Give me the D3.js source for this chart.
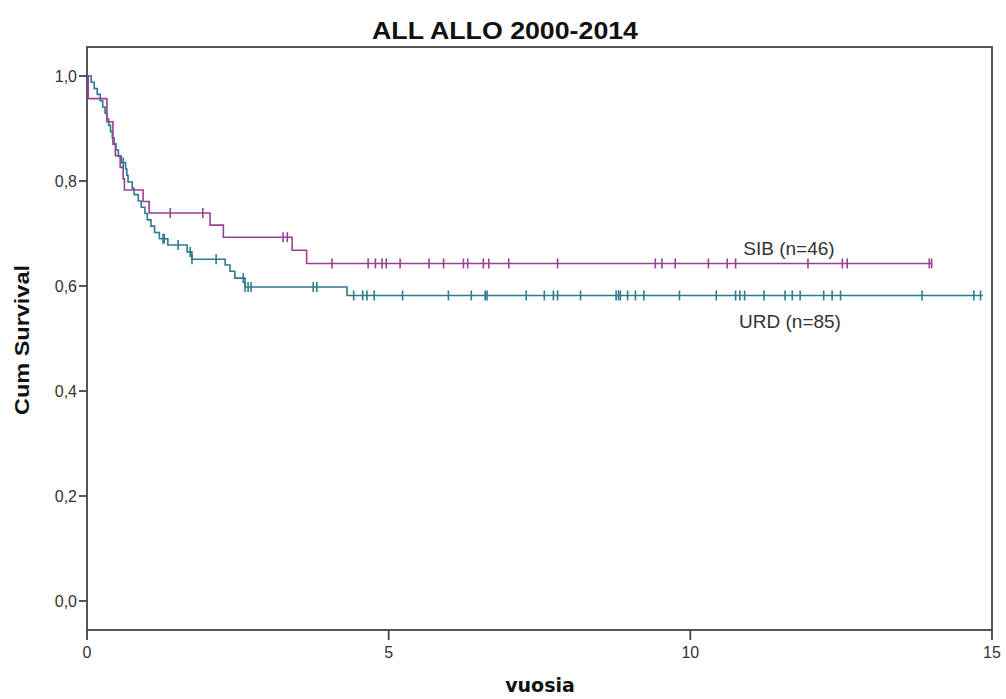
<!DOCTYPE html>
<html>
<head>
<meta charset="utf-8">
<script src="https://cdn.jsdelivr.net/npm/d3@7"></script>
<style>
  body { margin: 0; background: #fff; }
  text { font-family: "Liberation Sans", Arial, sans-serif; }
</style>
</head>
<body>
<div id="chart"></div>
<script>
// Kaplan-Meier steps (time in years, cumulative survival)
var sibTimes = [0, 0.02, 0.33, 0.43, 0.47, 0.55, 0.60, 0.62, 0.93, 1.03, 2.04, 2.26, 3.40, 3.64];
var sibSurv  = [1.0, 0.957, 0.913, 0.870, 0.848, 0.826, 0.804, 0.783, 0.761, 0.739, 0.716, 0.693, 0.668, 0.643];
var sibEnd = 14.0;
var sibCensored = [1.38, 1.92, 3.25, 3.32, 4.06, 4.66, 4.78, 4.89, 4.96, 5.19, 5.67, 5.91, 6.24, 6.31,
    6.57, 6.66, 6.99, 7.80, 9.42, 9.53, 9.75, 10.30, 10.61, 10.75, 11.95, 12.52, 12.60, 13.96, 14.0];

var urdTimes = [0, 0.07, 0.12, 0.17, 0.22, 0.26, 0.30, 0.33, 0.36, 0.39, 0.42, 0.45, 0.48, 0.52, 0.57,
    0.64, 0.66, 0.68, 0.75, 0.78, 0.85, 0.90, 0.96, 1.00, 1.06, 1.12, 1.20, 1.34, 1.66, 1.74,
    2.29, 2.37, 2.45, 2.62, 4.31];
var urdSurv  = [1.0, 0.988, 0.976, 0.965, 0.953, 0.941, 0.929, 0.918, 0.906, 0.894, 0.882, 0.871, 0.859, 0.847, 0.835,
    0.823, 0.811, 0.798, 0.786, 0.774, 0.762, 0.750, 0.738, 0.726, 0.714, 0.702, 0.690, 0.678, 0.665, 0.651,
    0.640, 0.628, 0.615, 0.598, 0.582];
var urdEnd = 14.85;
var urdCensored = [0.60, 1.26, 1.28, 1.51, 1.71, 1.74, 2.14, 2.59, 2.62, 2.67, 2.72, 3.75, 3.81,
    4.42, 4.57, 4.64, 4.76, 5.23, 5.99, 6.37, 6.60, 6.63, 7.28, 7.58, 7.73, 7.80, 8.18, 8.77, 8.81,
    8.84, 8.96, 9.09, 9.23, 9.82, 10.43, 10.75, 10.82, 10.90, 11.22, 11.57, 11.69, 11.82, 12.21,
    12.35, 12.49, 13.84, 14.70, 14.81];

var xTicks = [0, 5, 10, 15];
var yTicks = [0, 0.2, 0.4, 0.6, 0.8, 1.0];

var width = 1006,
    height = 699

var x = d3.scaleLinear().domain([0, 15]).range([87, 992]);
var y = d3.scaleLinear().domain([0, 1]).range([601, 76]);
var yTop = 47, yBottom = 630;

var svg = d3.select("#chart").append("svg")
    .attr("width", width)
    .attr("height", height);

// frame
svg.append("rect")
    .attr("x", x(0)).attr("y", yTop)
    .attr("width", x(15) - x(0)).attr("height", yBottom - yTop)
    .attr("fill", "none")
    .attr("stroke", "#444")
    .attr("stroke-width", 1.8);

// y axis ticks
var yAxis = svg.append("g");
yAxis.selectAll("line").data(yTicks).enter().append("line")
    .attr("x1", x(0) - 8).attr("x2", x(0))
    .attr("y1", function (d) { return y(d); })
    .attr("y2", function (d) { return y(d); })
    .attr("stroke", "#444").attr("stroke-width", 1.8);
yAxis.selectAll("text").data(yTicks).enter().append("text")
    .attr("x", x(0) - 10)
    .attr("y", function (d) { return y(d) + 6; })
    .attr("text-anchor", "end")
    .attr("font-size", 16)
    .attr("fill", "#333")
    .text(function (d) { return d3.format(".1f")(d).replace(".", ","); });

// x axis ticks
var xAxis = svg.append("g");
xAxis.selectAll("line").data(xTicks).enter().append("line")
    .attr("x1", function (d) { return x(d); })
    .attr("x2", function (d) { return x(d); })
    .attr("y1", yBottom).attr("y2", yBottom + 10)
    .attr("stroke", "#444").attr("stroke-width", 1.8);
xAxis.selectAll("text").data(xTicks).enter().append("text")
    .attr("x", function (d) { return x(d); })
    .attr("y", yBottom + 28)
    .attr("text-anchor", "middle")
    .attr("font-size", 16)
    .attr("fill", "#333")
    .text(function (d) { return d; });

// titles
svg.append("text")
    .attr("x", 505).attr("y", 39)
    .attr("text-anchor", "middle")
    .attr("font-size", 24)
    .attr("font-weight", "bold")
    .attr("textLength", 266)
    .attr("lengthAdjust", "spacingAndGlyphs")
    .attr("fill", "#111")
    .text("ALL ALLO 2000-2014");

svg.append("text")
    .attr("x", 540).attr("y", 692)
    .attr("text-anchor", "middle")
    .attr("font-size", 19)
    .attr("font-weight", "bold")
    .style("font-family", "'DejaVu Sans', sans-serif")
    .attr("fill", "#111")
    .text("vuosia");

svg.append("text")
    .attr("transform", "translate(29,340) rotate(-90)")
    .attr("text-anchor", "middle")
    .attr("font-size", 21)
    .attr("font-weight", "bold")
    .attr("textLength", 150)
    .attr("lengthAdjust", "spacingAndGlyphs")
    .attr("fill", "#111")
    .text("Cum Survival");

function survAt(times, surv, t) {
    var i = d3.bisectRight(times, t) - 1;
    return surv[Math.max(0, i)];
}

function drawCurve(times, surv, end, censored, color) {
    var pts = times.map(function (t, i) { return [t, surv[i]]; });
    pts.push([end, surv[surv.length - 1]]);
    var line = d3.line()
        .x(function (d) { return x(d[0]); })
        .y(function (d) { return y(d[1]); })
        .curve(d3.curveStepAfter);
    svg.append("path")
        .datum(pts)
        .attr("d", line)
        .attr("fill", "none")
        .attr("stroke", color)
        .attr("stroke-width", 1.6);
    svg.append("g").selectAll("line").data(censored).enter().append("line")
        .attr("x1", function (d) { return x(d); })
        .attr("x2", function (d) { return x(d); })
        .attr("y1", function (d) { return y(survAt(times, surv, d)) - 5; })
        .attr("y2", function (d) { return y(survAt(times, surv, d)) + 5; })
        .attr("stroke", color)
        .attr("stroke-width", 1.6);
}

drawCurve(urdTimes, urdSurv, urdEnd, urdCensored, "#2e7b8c");
drawCurve(sibTimes, sibSurv, sibEnd, sibCensored, "#9a3f96");

svg.append("text")
    .attr("x", 789).attr("y", 255)
    .attr("text-anchor", "middle")
    .attr("font-size", 19)
    .attr("fill", "#333")
    .text("SIB (n=46)");

svg.append("text")
    .attr("x", 790).attr("y", 328)
    .attr("text-anchor", "middle")
    .attr("font-size", 19)
    .attr("fill", "#333")
    .text("URD (n=85)");
</script>
</body>
</html>
